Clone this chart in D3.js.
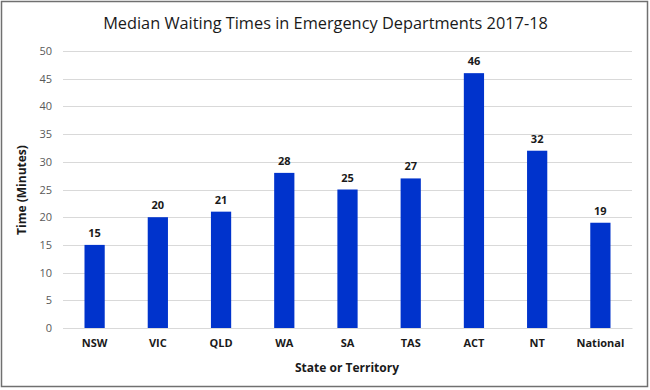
<!DOCTYPE html>
<html><head><meta charset="utf-8">
<script src="https://cdn.jsdelivr.net/npm/d3@7"></script>
<style>body{margin:0;background:#fff}svg{display:block}</style>
</head><body>
<script>
const categories = ["NSW","VIC","QLD","WA","SA","TAS","ACT","NT","National"];
const values = [15,20,21,28,25,27,46,32,19];
const yTicks = [0,5,10,15,20,25,30,35,40,45,50];
const title = "Median Waiting Times in Emergency Departments 2017-18";
const xTitle = "State or Territory";
const yTitle = "Time (Minutes)";

const W = 650, H = 390;
const svg = d3.select("body").append("svg").attr("width", W).attr("height", H);
svg.append("rect").attr("x",1.5).attr("y",1.5).attr("width",646).attr("height",385)
  .attr("fill","#fff").attr("stroke","#707070").attr("stroke-width",1.5);

const font = "'Open Sans', 'Liberation Sans', sans-serif";
const x = d3.scaleBand().domain(categories).range([63, 632]).paddingInner(0.68).paddingOuter(0.34);
const y = d3.scaleLinear().domain([0,50]).range([328, 51]);

// gridlines
svg.append("g").selectAll("line").data(yTicks).join("line")
  .attr("x1",63).attr("x2",632).attr("y1",d=>Math.round(y(d))+0.5).attr("y2",d=>Math.round(y(d))+0.5)
  .attr("stroke","#d9d9d9").attr("stroke-width",1);

// y axis labels
const yAxis = d3.axisLeft(y).tickValues(yTicks).tickSize(0).tickPadding(11);
const gy = svg.append("g").attr("transform","translate(63,0)").call(yAxis);
gy.select(".domain").remove();
gy.selectAll("text").attr("font-family",font).attr("font-size",11).attr("fill","#595959");

// bars
svg.append("g").selectAll("rect").data(values).join("rect")
  .attr("x",(d,i)=>x(categories[i])).attr("width",x.bandwidth())
  .attr("y",d=>y(d)).attr("height",d=>y(0)-y(d)).attr("fill","#0033cc");

// value labels
svg.append("g").selectAll("text").data(values).join("text")
  .attr("x",(d,i)=>x(categories[i])+x.bandwidth()/2).attr("y",d=>y(d)-8)
  .attr("text-anchor","middle").attr("font-family",font).attr("font-size",11)
  .attr("font-weight","bold").attr("fill","#1a1a1a").text(d=>d);

// x axis
const xAxis = d3.axisBottom(x).tickSize(0).tickPadding(11);
const gx = svg.append("g").attr("transform","translate(0,328)").call(xAxis);
gx.select(".domain").attr("stroke","#d9d9d9");
gx.selectAll("text").attr("font-family",font).attr("font-size",11).attr("font-weight","bold").attr("fill","#1a1a1a");

// titles
const t = svg.append("text").attr("x",325.5).attr("y",29).attr("text-anchor","middle")
  .attr("font-family",font).attr("font-size",17).attr("fill","#1a1a1a").text(title);
const tw = t.node().getComputedTextLength();
if (tw > 0) t.attr("font-size", 17*445/tw);

svg.append("text").attr("x",347).attr("y",372).attr("text-anchor","middle")
  .attr("font-family",font).attr("font-size",12).attr("font-weight","bold").attr("fill","#1a1a1a").text(xTitle);
svg.append("text").attr("transform","translate(26,190) rotate(-90)").attr("text-anchor","middle")
  .attr("font-family",font).attr("font-size",12).attr("font-weight","bold").attr("fill","#1a1a1a").text(yTitle);
</script>
</body></html>
